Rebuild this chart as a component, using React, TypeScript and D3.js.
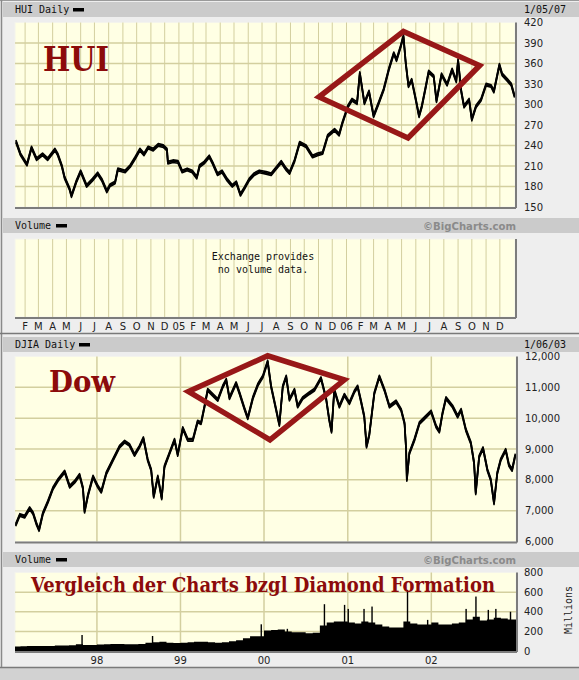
import * as d3 from "d3";

// HUI daily (approx. closes)
const huiDates = [
  "2004-01-12", "2004-01-22", "2004-02-05", "2004-02-15", "2004-02-26", "2004-03-10", "2004-03-21", "2004-04-06",
  "2004-04-12", "2004-04-21", "2004-04-27", "2004-05-08", "2004-05-12", "2004-05-23", "2004-06-01", "2004-06-14",
  "2004-06-27", "2004-07-08", "2004-07-17", "2004-07-28", "2004-08-04", "2004-08-15", "2004-08-21", "2004-09-06",
  "2004-09-17", "2004-09-28", "2004-10-08", "2004-10-17", "2004-10-26", "2004-11-06", "2004-11-17", "2004-11-28",
  "2004-12-06", "2004-12-08", "2004-12-19", "2004-12-30", "2005-01-08", "2005-01-19", "2005-01-30", "2005-02-09",
  "2005-02-15", "2005-02-25", "2005-03-08", "2005-03-15", "2005-03-26", "2005-04-05", "2005-04-16", "2005-04-27",
  "2005-05-06", "2005-05-15", "2005-05-24", "2005-06-03", "2005-06-14", "2005-06-25", "2005-07-10", "2005-07-21",
  "2005-08-01", "2005-08-12", "2005-08-23", "2005-08-30", "2005-09-10", "2005-09-21", "2005-10-05", "2005-10-19",
  "2005-10-30", "2005-11-10", "2005-11-21", "2005-12-06", "2005-12-16", "2005-12-23", "2006-01-04", "2006-01-13",
  "2006-01-24", "2006-01-30", "2006-02-09", "2006-02-19", "2006-03-01", "2006-03-12", "2006-03-23", "2006-04-03",
  "2006-04-14", "2006-04-20", "2006-04-29", "2006-05-05", "2006-05-10", "2006-05-16", "2006-05-23", "2006-06-01",
  "2006-06-08", "2006-06-14", "2006-06-23", "2006-06-29", "2006-07-10", "2006-07-16", "2006-07-27", "2006-08-08",
  "2006-08-19", "2006-08-28", "2006-09-01", "2006-09-08", "2006-09-14", "2006-09-25", "2006-10-01", "2006-10-10",
  "2006-10-21", "2006-11-01", "2006-11-12", "2006-11-18", "2006-11-30", "2006-12-06", "2006-12-17", "2006-12-26",
  "2007-01-02",
];
const huiClose = [
  246, 227, 212, 237, 220, 227, 220, 234,
  227, 210, 193, 176, 166, 188, 202, 181,
  190, 199, 190, 173, 182, 186, 205, 202,
  210, 222, 234, 227, 237, 234, 241, 239,
  234, 215, 217, 216, 202, 205, 202, 193,
  210, 215, 224, 215, 198, 202, 190, 181,
  186, 168, 178, 190, 198, 202, 200, 198,
  207, 216, 205, 200, 218, 244, 239, 224,
  227, 229, 254, 263, 256, 273, 297, 307,
  302, 346, 302, 319, 283, 302, 322, 351,
  375, 365, 385, 400, 361, 327, 336, 307,
  283, 297, 327, 348, 341, 305, 344, 329,
  351, 334, 365, 319, 297, 307, 278, 297,
  307, 329, 327, 319, 358, 344, 336, 329,
  312,
];

// DJIA daily
const djiaDates = [
  "1997-01-11", "1997-01-29", "1997-02-19", "1997-03-13", "1997-03-28", "1997-04-11", "1997-04-23", "1997-05-10",
  "1997-06-01", "1997-06-23", "1997-07-15", "1997-08-13", "1997-09-04", "1997-09-26", "1997-10-17", "1997-11-01",
  "1997-11-08", "1997-11-23", "1997-12-15", "1998-01-05", "1998-01-20", "1998-02-11", "1998-03-12", "1998-04-10",
  "1998-05-02", "1998-05-23", "1998-06-14", "1998-07-06", "1998-07-23", "1998-08-11", "1998-08-26", "1998-09-06",
  "1998-09-24", "1998-10-11", "1998-10-23", "1998-11-14", "1998-12-06", "1998-12-20", "1999-01-11", "1999-02-02",
  "1999-02-24", "1999-03-17", "1999-04-01", "1999-04-16", "1999-04-30", "1999-05-22", "1999-06-13", "1999-07-05",
  "1999-07-20", "1999-08-03", "1999-09-01", "1999-09-16", "1999-10-07", "1999-10-22", "1999-11-13", "1999-12-05",
  "1999-12-27", "2000-01-17", "2000-02-01", "2000-02-23", "2000-03-08", "2000-03-23", "2000-04-07", "2000-04-21",
  "2000-05-13", "2000-05-27", "2000-06-18", "2000-07-17", "2000-08-08", "2000-09-06", "2000-09-28", "2000-10-12",
  "2000-10-22", "2000-11-03", "2000-11-25", "2000-12-17", "2001-01-08", "2001-01-30", "2001-02-13", "2001-02-28",
  "2001-03-14", "2001-03-24", "2001-04-05", "2001-04-27", "2001-05-19", "2001-06-10", "2001-07-02", "2001-07-31",
  "2001-08-22", "2001-09-06", "2001-09-13", "2001-09-16", "2001-09-27", "2001-10-19", "2001-11-10", "2001-12-02",
  "2001-12-31", "2002-01-22", "2002-02-05", "2002-02-19", "2002-03-06", "2002-04-04", "2002-04-26", "2002-05-11",
  "2002-06-01", "2002-06-23", "2002-07-07", "2002-07-14", "2002-07-29", "2002-08-15", "2002-09-03", "2002-09-18",
  "2002-10-02", "2002-10-16", "2002-10-31", "2002-11-22", "2002-12-06", "2002-12-20", "2003-01-03",
];
const djiaClose = [
  6535, 6860, 6805, 7078, 6915, 6590, 6373, 6915,
  7292, 7727, 7997, 8266, 7780, 7941, 8159, 7727,
  6967, 7509, 8104, 7780, 7617, 8213, 8645, 9078,
  9240, 9133, 8808, 9078, 9350, 8645, 8321, 7454,
  8104, 7400, 8429, 8863, 9295, 8808, 9675, 9295,
  9295, 9890, 9838, 10378, 10919, 10757, 10594, 11026,
  11243, 10649, 11135, 10811, 10324, 10000, 10649, 11081,
  11351, 11838, 11026, 10270, 9782, 11026, 11351, 10600,
  10919, 10378, 10649, 10811, 10919, 11298, 10649, 9945,
  9565, 10919, 10378, 10757, 10487, 10865, 11026, 10540,
  10054, 9078, 9458, 10811, 11351, 10919, 10378, 10540,
  10270, 9838, 8970, 7997, 8863, 9295, 9838, 10000,
  10216, 9729, 9565, 10162, 10649, 10378, 10054, 10270,
  9620, 9188, 8538, 7564, 8753, 9025, 8321, 7997,
  7240, 8213, 8645, 8970, 8484, 8321, 8808,
];

// DJIA volume, millions: monthly level Jan 1997 .. Dec 2002
const volMonthly = [
  45, 48, 50, 50, 52, 52, 55, 55, 58, 70, 62, 60,
  65, 68, 72, 72, 70, 68, 72, 85, 90, 95, 85, 82,
  85, 90, 95, 95, 90, 85, 90, 100, 110, 130, 150, 150,
  210, 215, 220, 200, 190, 190, 180, 185, 260, 290, 300, 300,
  290, 280, 300, 290, 270, 250, 240, 240, 300, 280, 270, 270,
  290, 270, 270, 280, 290, 320, 350, 310, 320, 340, 330, 320,
];
const volSpikeDates = [
  "1997-10-28", "1998-09-01", "1999-12-20", "2000-04-12", "2000-09-21", "2000-12-18", "2001-01-03", "2001-03-13",
  "2001-04-17", "2001-09-19", "2001-12-16", "2002-06-02", "2002-07-15", "2002-09-07", "2002-10-10", "2002-12-13",
];
const volSpikeValues = [163, 153, 272, 226, 477, 470, 429, 429, 453, 623, 317, 429, 555, 419, 429, 400];

// tick labels
const huiTicks = [150, 180, 210, 240, 270, 300, 330, 360, 390, 420];
const djiaTicks = [6000, 7000, 8000, 9000, 10000, 11000, 12000];
const volTicks = [0, 200, 400, 600, 800];
const monthLetters = ["J", "F", "M", "A", "M", "J", "J", "A", "S", "O", "N", "D"];
const yearLabels = ["98", "99", "00", "01", "02"];

// diamond annotations (left, top, right, bottom)
const huiDiamondDates = ["2005-11-02", "2006-05-05", "2006-10-18", "2006-05-15"];
const huiDiamondValues = [311, 407, 357, 251];
const djiaDiamondDates = ["1999-02-05", "2000-01-17", "2000-12-17", "2000-01-27"];
const djiaDiamondValues = [10864, 12023, 11243, 9295];

const parse = d3.timeParse("%Y-%m-%d");
const W = 579;
const H = 680;
const PLOT_BG = "#ffffe4";
const GRID = "#d3cf9f";
const RED = "#981818";
const MONO = "'DejaVu Sans Mono', monospace";
const SANS = "'DejaVu Sans', Verdana, sans-serif";

const hui = { x0: 15, x1: 515, y0: 22.5, y1: 207 };
const vol1 = { x0: 15, x1: 515, y0: 239, y1: 317 };
const dow = { x0: 15, x1: 516, y0: 356.5, y1: 541.5 };
const vol2 = { x0: 15, x1: 516, y0: 572.5, y1: 651 };

type Box = { x0: number; x1: number; y0: number; y1: number };

function PlotBox({ b }: { b: Box }) {
  return <rect x={b.x0} y={b.y0} width={b.x1 - b.x0} height={b.y1 - b.y0} fill={PLOT_BG} stroke="#f4f4ec" strokeWidth={1} />;
}

function PlotShadow({ b }: { b: Box }) {
  return (
    <g stroke="#7c7c7c" strokeWidth={2} fill="none">
      <line x1={b.x0} x2={b.x1 + 1} y1={b.y1 + 1} y2={b.y1 + 1} />
      <line x1={b.x1 + 1} x2={b.x1 + 1} y1={b.y0} y2={b.y1 + 1} />
    </g>
  );
}

// price path drawn as a band, like the daily high-low bars of the source
function PriceBand({ d, clip }: { d: string; clip: string }) {
  return (
    <g clipPath={clip} fill="none" stroke="#000" strokeLinejoin="round">
      <path d={d} strokeWidth={1.6} transform="translate(0,-1.3)" />
      <path d={d} strokeWidth={1.6} transform="translate(0,1.3)" />
      <path d={d} strokeWidth={1.8} />
    </g>
  );
}

function Header({ y, left, right, dashX, copy }: { y: number; left: string; right?: string; dashX: number; copy?: boolean }) {
  return (
    <g>
      <rect x={3} y={y} width={W - 3} height={15} fill="#cbcbcb" />
      <text x={15} y={y + 11} fontFamily={MONO} fontSize={10} fill="#111">{left}</text>
      <rect x={dashX} y={y + 6} width={11} height={3.5} fill="#000" />
      {right && <text x={524} y={y + 11} fontFamily={MONO} fontSize={10} fill="#111">{right}</text>}
      {copy && (
        <text x={516} y={y + 11.5} textAnchor="end" fontFamily={SANS} fontWeight="bold" fontSize={11}
          fill="#8a8a8a" textLength={93} lengthAdjust="spacingAndGlyphs">©BigCharts.com</text>
      )}
    </g>
  );
}

export default function App() {
  const xHui = d3.scaleTime().domain([parse("2004-01-10")!, parse("2007-01-03")!]).range([hui.x0, hui.x1]);
  const yHui = d3.scaleLinear().domain([150, 420]).range([hui.y1, hui.y0]);
  const xDow = d3.scaleTime().domain([parse("1997-01-08")!, parse("2003-01-06")!]).range([dow.x0, dow.x1]);
  const yDow = d3.scaleLinear().domain([6000, 12000]).range([dow.y1, dow.y0]);
  const yVol = d3.scaleLinear().domain([0, 800]).range([vol2.y1, vol2.y0]);

  const months = d3.timeMonth.range(parse("2004-02-01")!, parse("2007-01-01")!);
  const years = d3.timeYear.range(parse("1998-01-01")!, parse("2003-01-01")!);

  const huiPts = huiDates.map((d, i) => [parse(d)!, huiClose[i]] as [Date, number]);
  const dowPts = djiaDates.map((d, i) => [parse(d)!, djiaClose[i]] as [Date, number]);

  const huiLine = d3.line<[Date, number]>().x((d) => xHui(d[0])).y((d) => yHui(d[1]));
  const dowLine = d3.line<[Date, number]>().x((d) => xDow(d[0])).y((d) => yDow(d[1]));

  const volMonths = d3.timeMonth.range(parse("1997-01-01")!, parse("2003-01-01")!);
  const volPts = volMonths.map((d, i) => [d, volMonthly[i]] as [Date, number]);
  volPts.push([parse("2003-01-06")!, volMonthly[volMonthly.length - 1]]);
  const volArea = d3.area<[Date, number]>()
    .x((d) => xDow(d[0]))
    .y0(vol2.y1)
    .y1((d) => yVol(d[1]))
    .curve(d3.curveStepAfter);

  const diamond = (dates: string[], vals: number[], x: d3.ScaleTime<number, number>, y: d3.ScaleLinear<number, number>) =>
    dates.map((d, i) => `${x(parse(d)!)},${y(vals[i])}`).join(" ");

  const monthLabel = (m: Date) => (m.getMonth() === 0 ? String(m.getFullYear()).slice(2) : monthLetters[m.getMonth()]);

  return (
    <svg width={W} height={H} style={{ position: "absolute", left: 0, top: 0, display: "block" }}>
      <defs>
        <clipPath id="clipHui"><rect x={hui.x0} y={hui.y0 - 2} width={hui.x1 - hui.x0} height={hui.y1 - hui.y0 + 2} /></clipPath>
        <clipPath id="clipDow"><rect x={dow.x0} y={dow.y0 - 2} width={dow.x1 - dow.x0} height={dow.y1 - dow.y0 + 2} /></clipPath>
        <clipPath id="clipVol"><rect x={vol2.x0} y={vol2.y0} width={vol2.x1 - vol2.x0} height={vol2.y1 - vol2.y0} /></clipPath>
      </defs>

      {/* frame */}
      <rect x={0} y={0} width={W} height={H} fill="#eeeeee" />
      <rect x={0} y={668} width={W} height={12} fill="#d2d2d2" />
      <line x1={0} x2={W} y1={667.5} y2={667.5} stroke="#7a7a7a" strokeWidth={1.5} />
      <line x1={0} x2={W} y1={0.5} y2={0.5} stroke="#9a9a9a" strokeWidth={1} />
      <line x1={1.5} x2={1.5} y1={0} y2={667} stroke="#8a8a8a" strokeWidth={1.5} />
      <line x1={0} x2={W} y1={333.5} y2={333.5} stroke="#7a7a7a" strokeWidth={1.5} />

      {/* HUI panel */}
      <Header y={2} left="HUI Daily" right="1/05/07" dashX={73} />
      <PlotBox b={hui} />
      <g stroke={GRID}>
        {months.map((m, i) => (
          <line key={i} x1={xHui(m)} x2={xHui(m)} y1={hui.y0} y2={hui.y1} strokeWidth={1} />
        ))}
        {huiTicks.slice(1, -1).map((t) => (
          <line key={t} x1={hui.x0} x2={hui.x1} y1={yHui(t)} y2={yHui(t)} strokeWidth={1.5} />
        ))}
      </g>
      <PlotShadow b={hui} />
      <text x={43} y={70.5} fontFamily="'DejaVu Serif', serif" fontWeight="bold" fontSize={33} fill="#8c0b0b"
        textLength={66} lengthAdjust="spacingAndGlyphs">HUI</text>
      <PriceBand d={huiLine(huiPts) ?? ""} clip="url(#clipHui)" />
      <polygon points={diamond(huiDiamondDates, huiDiamondValues, xHui, yHui)} fill="none" stroke={RED}
        strokeWidth={5.5} strokeLinejoin="miter" />
      {huiTicks.map((t) => (
        <text key={t} x={524} y={yHui(t) + 3.5} fontFamily={SANS} fontSize={10} fill="#222">{t}</text>
      ))}

      {/* HUI volume panel */}
      <Header y={218} left="Volume" dashX={56} copy />
      <PlotBox b={vol1} />
      <g stroke={GRID}>
        {months.map((m, i) => (
          <line key={i} x1={xHui(m)} x2={xHui(m)} y1={vol1.y0} y2={vol1.y1} strokeWidth={1} />
        ))}
      </g>
      <PlotShadow b={vol1} />
      <text x={263} y={260} textAnchor="middle" fontFamily={MONO} fontSize={10} fill="#111">Exchange provides</text>
      <text x={263} y={272.5} textAnchor="middle" fontFamily={MONO} fontSize={10} fill="#111">no volume data.</text>
      {months.map((m, i) => (
        <text key={i} x={xHui(m)} y={329.5} textAnchor="middle" fontFamily={SANS} fontSize={10} fill="#222">
          {monthLabel(m)}
        </text>
      ))}

      {/* DJIA panel */}
      <Header y={337} left="DJIA Daily" right="1/06/03" dashX={79} />
      <PlotBox b={dow} />
      <g stroke={GRID}>
        {years.map((yr, i) => (
          <line key={i} x1={xDow(yr)} x2={xDow(yr)} y1={dow.y0} y2={dow.y1} strokeWidth={1.5} />
        ))}
        {djiaTicks.slice(1, -1).map((t) => (
          <line key={t} x1={dow.x0} x2={dow.x1} y1={yDow(t)} y2={yDow(t)} strokeWidth={1.5} />
        ))}
      </g>
      <PlotShadow b={dow} />
      <text x={49} y={392} fontFamily="'DejaVu Serif', serif" fontWeight="bold" fontSize={29} fill="#8c0b0b"
        textLength={66} lengthAdjust="spacingAndGlyphs">Dow</text>
      <PriceBand d={dowLine(dowPts) ?? ""} clip="url(#clipDow)" />
      <polygon points={diamond(djiaDiamondDates, djiaDiamondValues, xDow, yDow)} fill="none" stroke={RED}
        strokeWidth={5.5} strokeLinejoin="miter" />
      {djiaTicks.map((t) => (
        <text key={t} x={525} y={yDow(t) + 3.5} fontFamily={SANS} fontSize={10} fill="#222">{d3.format(",")(t)}</text>
      ))}

      {/* DJIA volume panel */}
      <Header y={552} left="Volume" dashX={56} copy />
      <PlotBox b={vol2} />
      <g stroke={GRID}>
        {years.map((yr, i) => (
          <line key={i} x1={xDow(yr)} x2={xDow(yr)} y1={vol2.y0} y2={vol2.y1} strokeWidth={1.5} />
        ))}
        {volTicks.slice(1, -1).map((t) => (
          <line key={t} x1={vol2.x0} x2={vol2.x1} y1={yVol(t)} y2={yVol(t)} strokeWidth={1.5} />
        ))}
      </g>
      <g clipPath="url(#clipVol)">
        <path d={volArea(volPts) ?? ""} fill="#000" />
        {volSpikeDates.map((d, i) => {
          const x = xDow(parse(d)!);
          return <rect key={d} x={x - 0.7} y={yVol(volSpikeValues[i])} width={1.4} height={vol2.y1 - yVol(volSpikeValues[i])} fill="#000" />;
        })}
      </g>
      <PlotShadow b={vol2} />
      <text x={31} y={591.5} fontFamily="'DejaVu Serif', serif" fontWeight="bold" fontSize={20} fill="#8c0b0b"
        textLength={464} lengthAdjust="spacingAndGlyphs">Vergleich der Charts bzgl Diamond Formation</text>
      {volTicks.map((t) => (
        <text key={t} x={524} y={yVol(t) + 3.5} fontFamily={SANS} fontSize={10} fill="#222">{t}</text>
      ))}
      <text transform="translate(572,610) rotate(-90)" textAnchor="middle" fontFamily={MONO} fontSize={10} fill="#222">Millions</text>
      {years.map((yr, i) => (
        <text key={i} x={xDow(yr)} y={664} textAnchor="middle" fontFamily={SANS} fontSize={10} fill="#222">{yearLabels[i]}</text>
      ))}
    </svg>
  );
}
